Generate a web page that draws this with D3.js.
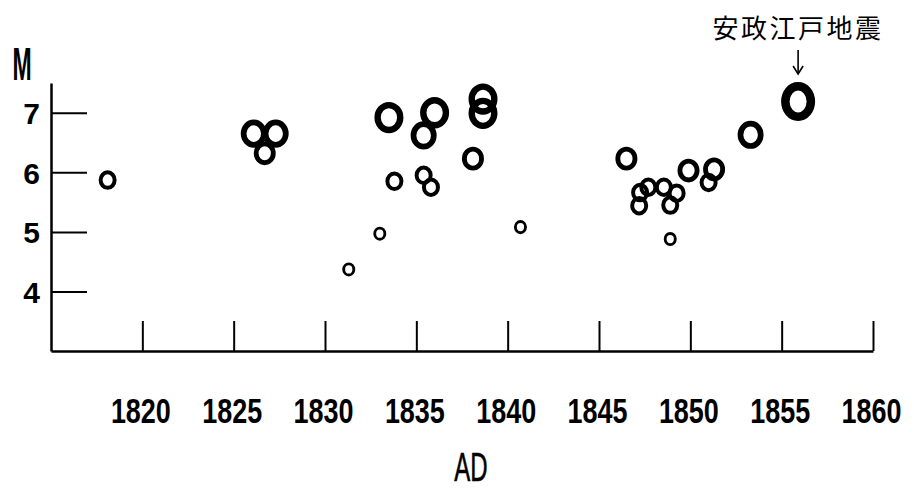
<!DOCTYPE html>
<html><head><meta charset="utf-8">
<script src="https://cdn.jsdelivr.net/npm/d3@7"></script>
<style>body{margin:0;background:#fff}svg{display:block}</style>
</head><body><svg id="c" width="914" height="489"></svg>
<script>
// ---- data ----
const years = [1818.1, 1826.1, 1827.3, 1826.7, 1831.3, 1833.0, 1833.5, 1833.8, 1835.4, 1835.4, 1835.8, 1836.0, 1838.1, 1838.65, 1838.65, 1840.7,
               1846.5, 1847.2, 1847.25, 1847.7, 1848.55, 1848.9, 1849.25, 1848.9, 1849.9, 1851.0, 1851.3, 1853.3, 1855.9];
const magnitudes = [5.87, 6.65, 6.65, 6.32, 4.37, 4.97, 6.92, 5.85, 6.62, 5.95, 5.75, 7.0, 6.23, 7.23, 6.99, 5.08,
                    6.23, 5.44, 5.66, 5.75, 5.75, 5.45, 5.65, 4.88, 6.03, 5.83, 6.05, 6.63, 7.19];
const xTickYears = [1820, 1825, 1830, 1835, 1840, 1845, 1850, 1855, 1860];
const yTickValues = [4, 5, 6, 7];
const annotatedYear = 1855.9;
const annotationText = "安政江戸地震";
const xTitle = "AD";
const yTitle = "M";

// ---- chart ----
const svg = d3.select("#c");
const x = d3.scaleLinear().domain([1815, 1860]).range([51, 873]);
const y = d3.scaleLinear().domain([3, 7.5]).range([351, 83]);
const ringSize = d3.scaleThreshold().domain([5.3, 6.0, 6.45, 6.85]).range([13, 18, 22, 26, 29]);

// y axis
const gy = svg.append("g").attr("transform", `translate(${x(1815)},0)`)
  .call(d3.axisLeft(y).tickValues(yTickValues).tickFormat(d3.format("d")).tickSizeInner(-36).tickSizeOuter(0).tickPadding(11));
gy.select(".domain").attr("stroke", "#000").attr("stroke-width", 2.5);
gy.selectAll(".tick line").attr("stroke", "#000").attr("stroke-width", 2);
gy.selectAll(".tick text").attr("fill", "#000").attr("dy", "0.36em")
  .style("font-family", "'Liberation Sans', Arial, sans-serif").style("font-weight", "bold").style("font-size", "30px");

// x axis
const gx = svg.append("g").attr("transform", `translate(0,${y(3)})`)
  .call(d3.axisBottom(x).tickValues(xTickYears).tickFormat(d3.format("d")).tickSizeInner(-30).tickSizeOuter(0).tickPadding(0));
gx.select(".domain").attr("stroke", "#000").attr("stroke-width", 2.5);
gx.selectAll(".tick line").attr("stroke", "#000").attr("stroke-width", 2);
gx.selectAll(".tick text").attr("fill", "#000").attr("y", 0).attr("dy", 0)
  .attr("transform", "translate(-2,72) scale(0.77,1)")
  .style("font-family", "'Liberation Sans', Arial, sans-serif").style("font-weight", "bold").style("font-size", "35px");

// titles
svg.append("text").text(yTitle)
  .attr("transform", "translate(22,80) scale(0.5,1)")
  .attr("text-anchor", "middle")
  .style("font-family", "'Liberation Sans', Arial, sans-serif").style("font-weight", "bold").style("font-size", "46px").attr("fill", "#000");
svg.append("text").text(xTitle)
  .attr("transform", `translate(471,481) scale(0.6,1)`)
  .attr("text-anchor", "middle")
  .style("font-family", "'Liberation Sans', Arial, sans-serif").style("font-size", "40px").attr("fill", "#000")
  .attr("stroke", "#000").attr("stroke-width", 0.6);

// rings
const pts = years.map((yr, i) => ({ yr, m: magnitudes[i], hl: yr === annotatedYear }));
svg.append("g").selectAll("ellipse").data(pts).join("ellipse")
  .each(function (d) {
    const w = d.hl ? 34 : ringSize(d.m);
    const h = d.hl ? 39 : w * 1.08;
    const sw = d.hl ? 8.5 : w * 0.22;
    d3.select(this)
      .attr("cx", x(d.yr)).attr("cy", y(d.m))
      .attr("rx", (w - sw) / 2).attr("ry", (h - sw) / 2)
      .attr("fill", "none").attr("stroke", "#000").attr("stroke-width", sw);
  });

// annotation
const ax = x(annotatedYear);
svg.append("text").text(annotationText)
  .attr("x", ax).attr("y", 38).attr("text-anchor", "middle")
  .style("font-family", "'Noto Sans CJK JP', sans-serif").style("font-size", "26px").style("letter-spacing", "2.5px")
  .attr("fill", "#000");
svg.append("line").attr("x1", ax).attr("x2", ax).attr("y1", 50).attr("y2", 73)
  .attr("stroke", "#000").attr("stroke-width", 1.6);
svg.append("path").attr("d", `M${ax - 5},${66} L${ax},${74} L${ax + 5},${66}`)
  .attr("fill", "none").attr("stroke", "#000").attr("stroke-width", 1.6);
</script>
</body></html>
